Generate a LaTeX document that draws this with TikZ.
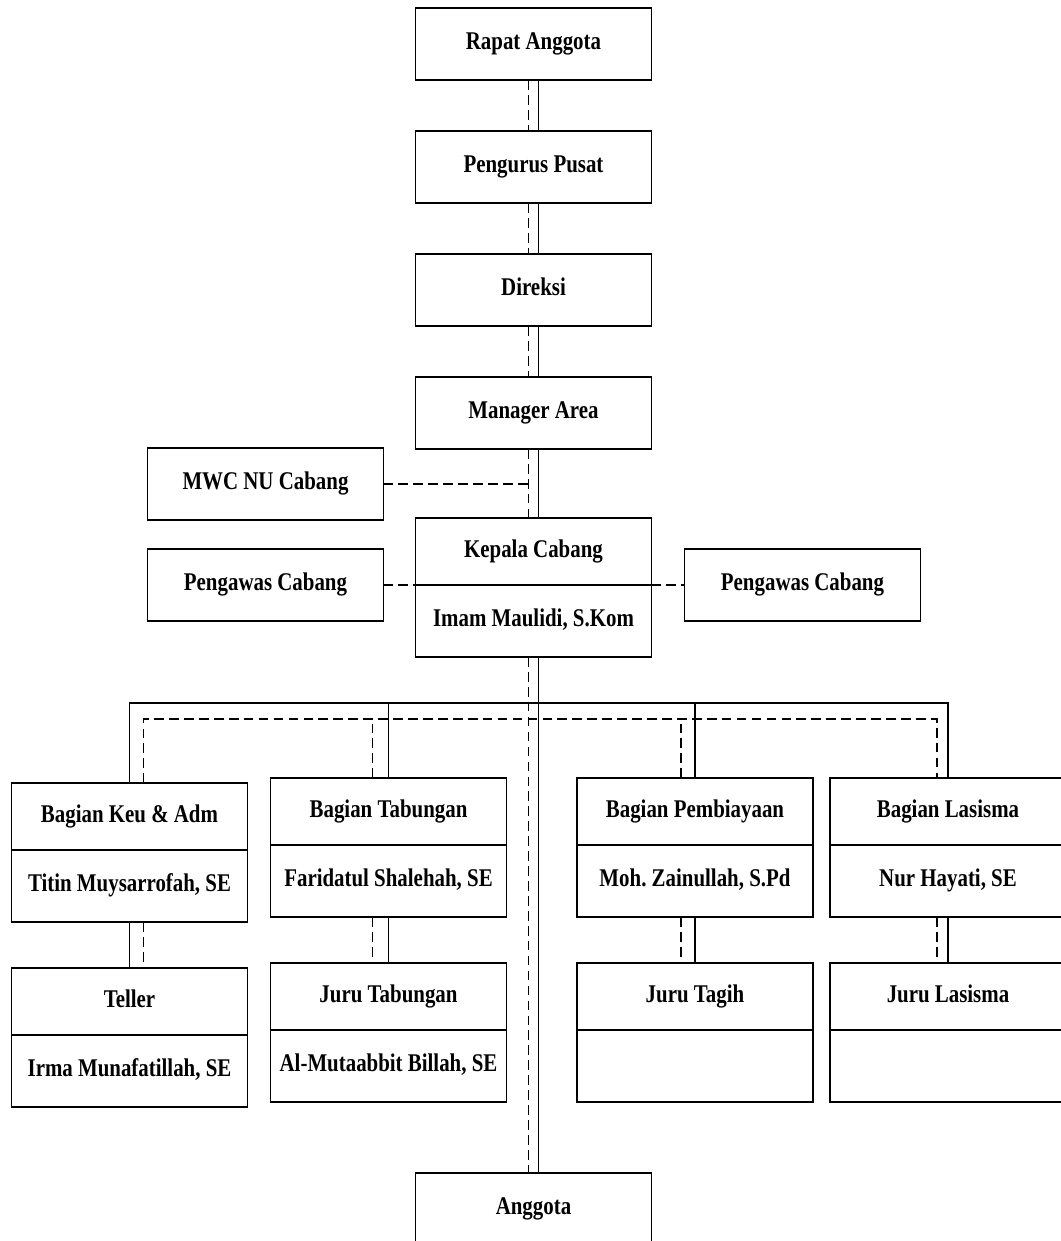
\documentclass[tikz,border=0pt]{standalone}
\usepackage{fontspec}
\setmainfont{Liberation Serif}[FakeStretch=0.82]
\usetikzlibrary{positioning}
\frenchspacing

\begin{document}
\begin{tikzpicture}[every node/.style={block},
  block/.style={minimum width=4.72cm,minimum height=1.44cm,outer sep=0pt,draw,rectangle,line width=0.8pt,node distance=0pt,text height=0.66em,text depth=0pt,font=\fontsize{14.5}{17}\selectfont\bfseries},
  head/.style={minimum height=1.34cm},
  dashline/.style={dash pattern=on 5.5pt off 3pt},
  line width=0.65pt]

        \clip (0,0) rectangle (21.22,-24.82);

        % top column
        \node (rapat) at (10.67,-0.88) {Rapat Anggota};
        \node (pengurus) [below = 1.02cm of rapat] {Pengurus Pusat};
        \node (direksi) [below = 1.02cm of pengurus] {Direksi};
        \node (manager) [below = 1.02cm of direksi] {Manager Area};
        \node (kepala) [head,below = 1.38cm of manager] {Kepala Cabang};
        \node (kepalaName) [below = of kepala] {Imam Maulidi, S.Kom};

        \node (pengawasL) [left = 0.64cm of kepalaName.north west] {Pengawas Cabang};
        \node (pengawasR) [right = 0.66cm of kepalaName.north east] {Pengawas Cabang};
        \node (mwc) [above = 0.58cm of pengawasL] {MWC NU Cabang};

        % bagian
        \node (keu) [head,anchor=north] at (2.59,-15.66) {Bagian Keu \& Adm};
        \node (keuName) [below = of keu] {Titin Muysarrofah, SE};
        \node (teller) [head,below = 0.92cm of keuName] {Teller};
        \node (tellerName) [below = of teller] {Irma Munafatillah, SE};

        \node (tab) [head,anchor=north] at (7.77,-15.56) {Bagian Tabungan};
        \node (tabName) [below = of tab] {Faridatul Shalehah, SE};
        \node (juruTab) [head,below = 0.92cm of tabName] {Juru Tabungan};
        \node (juruTabName) [below = of juruTab] {Al-Mutaabbit Billah, SE};

        \node (pemb) [head,anchor=north] at (13.9,-15.56) {Bagian Pembiayaan};
        \node (pembName) [below = of pemb] {Moh. Zainullah, S.Pd};
        \node (juruTagih) [head,below = 0.92cm of pembName] {Juru Tagih};
        \node (juruTagihName) [below = of juruTagih] {};

        \node (las) [head,anchor=north] at (18.96,-15.56) {Bagian Lasisma};
        \node (lasName) [below = of las] {Nur Hayati, SE};
        \node (juruLas) [head,below = 0.92cm of lasName] {Juru Lasisma};
        \node (juruLasName) [below = of juruLas] {};

        \node (anggota) [anchor=north] at (10.67,-23.46) {Anggota};

        % lines
        \foreach \a/\b in {rapat/pengurus,pengurus/direksi,direksi/manager,manager/kepala,kepalaName/anggota}
          {
          \draw ([xshift=0.1cm]\a.south) -- ([xshift=0.1cm]\b.north);
          \draw[dashline] ([xshift=-0.1cm]\a.south) -- ([xshift=-0.1cm]\b.north);
          }

        \coordinate (midD) at ([xshift=-0.1cm]manager.south);
        \draw[dashline] (mwc.east) -- (mwc.east -| midD);
        \draw[dashline] (pengawasL.east) -- (kepalaName.north west);
        \draw[dashline] (kepalaName.north east) -- (pengawasR.west);

        \coordinate (busS) at (0,-14.06);
        \coordinate (busD) at (0,-14.38);
        \draw (keu.north) -- (keu.north |- busS) -- (las.north |- busS) -- (las.north);
        \foreach \n in {tab,pemb} \draw (\n.north) -- (\n.north |- busS);

        \foreach \n/\s in {keu/0.28,tab/-0.32,pemb/-0.28,las/-0.22}
          \coordinate (\n-d) at ([xshift=\s cm]\n.north);
        \draw[dashline] (keu-d) -- (keu-d |- busD) -- (las-d |- busD) -- (las-d);
        \foreach \n in {tab-d,pemb-d} \draw[dashline] (\n) -- (\n |- busD);

        \foreach \a/\b/\s in {keuName/teller/0.28,tabName/juruTab/-0.32,pembName/juruTagih/-0.28,lasName/juruLas/-0.22}
          {
          \draw (\a.south) -- (\b.north);
          \draw[dashline] ([xshift=\s cm]\a.south) -- ([xshift=\s cm]\b.north);
          }
      \end{tikzpicture}
\end{document}
